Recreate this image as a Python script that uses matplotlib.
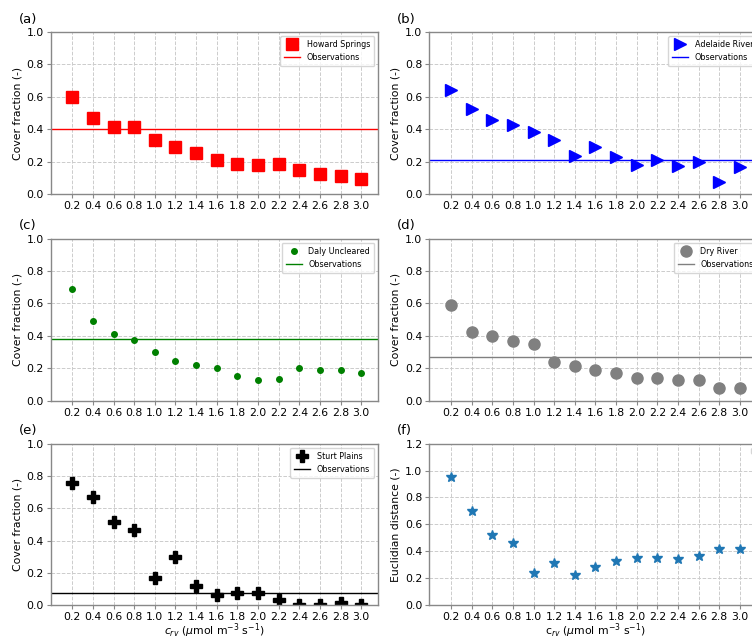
import numpy as np
import matplotlib
matplotlib.use('Agg')
import matplotlib.pyplot as plt

c_rv = [0.2, 0.4, 0.6, 0.8, 1.0, 1.2, 1.4, 1.6, 1.8, 2.0, 2.2, 2.4, 2.6, 2.8, 3.0]
xticklabels = ['%.1f' % v for v in c_rv]

howard = [0.600, 0.466, 0.416, 0.414, 0.334, 0.291, 0.254, 0.210, 0.184, 0.179,
          0.184, 0.148, 0.126, 0.111, 0.095]
howard_obs = 0.400

adelaide = [0.641, 0.524, 0.454, 0.427, 0.384, 0.332, 0.235, 0.287, 0.231, 0.177,
            0.208, 0.173, 0.198, 0.074, 0.169]
adelaide_obs = 0.208

daly = [0.690, 0.489, 0.409, 0.372, 0.300, 0.246, 0.218, 0.199, 0.152, 0.129,
        0.133, 0.203, 0.191, 0.189, 0.170]
daly_obs = 0.380

dry = [0.593, 0.423, 0.400, 0.366, 0.351, 0.238, 0.216, 0.187, 0.170, 0.142,
       0.142, 0.125, 0.125, 0.080, 0.080]
dry_obs = 0.269

sturt = [0.758, 0.669, 0.513, 0.468, 0.172, 0.302, 0.121, 0.066, 0.076, 0.076,
         0.033, 0.004, 0.004, 0.014, 0.002]
sturt_obs = 0.078

euclid = [0.949, 0.702, 0.525, 0.463, 0.239, 0.313, 0.224, 0.286, 0.330, 0.355,
          0.355, 0.345, 0.367, 0.421, 0.421]

FS = 7.8
LFS = 5.8
PFS = 9.5
XLAB_E = r'$c_{rv}$ ($\mu$mol m$^{-3}$ s$^{-1}$)'
XLAB_F = r'c$_{rv}$ ($\mu$mol m$^{-3}$ s$^{-1}$)'

fig = plt.figure(figsize=(7.52, 6.4), dpi=100)

# right column runs a little past the figure edge, as in the cropped original
W, H = 0.4355, 0.253
EXTRA = 0.006
lefts = [0.0674, 0.571]
bottoms = [0.697, 0.374, 0.054]
XMAX_L = 3.165
XMAX_R = XMAX_L + EXTRA * 7.52 * 100 / (W * 752 / (XMAX_L + 0.01))


def style(ax, label, ylim, yticks, ylabel, xmax):
    ax.set_xlim(-0.01, xmax)
    ax.set_xticks(c_rv)
    ax.set_xticklabels(xticklabels)
    ax.set_ylim(*ylim)
    ax.set_yticks(yticks)
    ax.tick_params(labelsize=FS, length=3, width=0.8, color='#888888', pad=2)
    for sp in ax.spines.values():
        sp.set_color('#888888')
        sp.set_linewidth(1.0)
    ax.grid(True, ls='--', color='#cccccc', lw=0.7)
    ax.set_axisbelow(True)
    ax.set_ylabel(ylabel, fontsize=FS, labelpad=3)
    ax.text(-0.097, 1.08, label, transform=ax.transAxes, fontsize=PFS,
            ha='left', va='center')


def site_panel(ax, label, vals, obs, name, color, marker, ms, xmax):
    ax.plot(c_rv, vals, ls='none', marker=marker, color=color, ms=ms, label=name)
    ax.axhline(obs, color=color, lw=1.0, label='Observations')
    style(ax, label, (0, 1.0), np.arange(0, 1.01, 0.2), 'Cover fraction (-)', xmax)
    ax.legend(loc='upper right', fontsize=LFS, framealpha=0.8, edgecolor='#cccccc',
              borderpad=0.5, handlelength=2.0)


ax = fig.add_axes([lefts[0], bottoms[0], W, H])
site_panel(ax, '(a)', howard, howard_obs, 'Howard Springs', 'red', 's', 8, XMAX_L)

ax = fig.add_axes([lefts[1], bottoms[0], W + EXTRA, H])
site_panel(ax, '(b)', adelaide, adelaide_obs, 'Adelaide River', 'blue', '>', 8.5, XMAX_R)

ax = fig.add_axes([lefts[0], bottoms[1], W, H])
site_panel(ax, '(c)', daly, daly_obs, 'Daly Uncleared', 'green', 'o', 4, XMAX_L)

ax = fig.add_axes([lefts[1], bottoms[1], W + EXTRA, H])
site_panel(ax, '(d)', dry, dry_obs, 'Dry River', 'grey', 'o', 8, XMAX_R)

ax = fig.add_axes([lefts[0], bottoms[2], W, H])
site_panel(ax, '(e)', sturt, sturt_obs, 'Sturt Plains', 'black', 'P', 8.5, XMAX_L)
ax.set_xlabel(XLAB_E, fontsize=FS, labelpad=-1)

ax = fig.add_axes([lefts[1], bottoms[2], W + EXTRA, H])
ax.plot(c_rv, euclid, ls='none', marker='*', color='tab:blue', ms=7)
style(ax, '(f)', (0, 1.2), np.arange(0, 1.21, 0.2), 'Euclidian distance (-)', XMAX_R)
ax.set_xlabel(XLAB_F, fontsize=FS, labelpad=-1)
ax.legend(handles=[], loc='upper right', fontsize=LFS, edgecolor='#cccccc')

fig.savefig('out.png', dpi=100)
